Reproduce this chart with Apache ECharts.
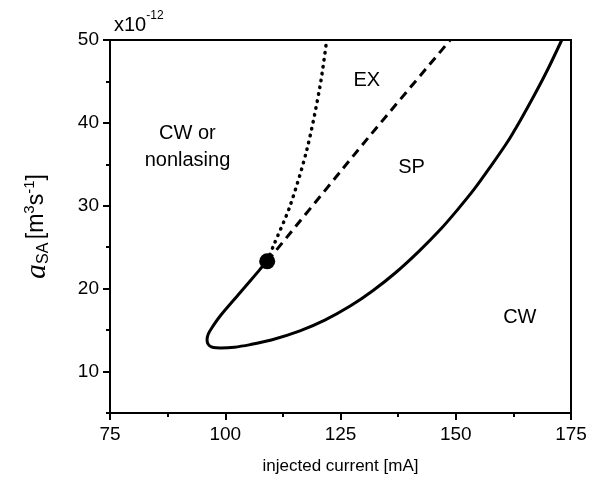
<!DOCTYPE html>
<html>
<head>
<meta charset="utf-8">
<script src="https://cdn.jsdelivr.net/npm/echarts@6/dist/echarts.min.js"></script>
<style>html,body{margin:0;padding:0;background:#fff}#c{width:602px;height:478px}</style>
</head>
<body>
<div id="c"></div>
<script>
// boundary between CW and SP (solid), starting at the codimension point
const solidX = [109.1, 107.5, 103.2, 98.9, 97.0, 96.3, 96.05, 96.3, 97.0, 98.0, 99.0, 102.0, 105.4, 110.0, 116.2, 121.6, 127.1, 132.0, 137.0, 142.0, 146.6, 150.5, 154.0, 157.5, 161.1, 164.0, 167.0, 170.0, 173.0];
const solidY = [23.3, 22.3, 19.5, 16.7, 15.2, 14.5, 13.85, 13.3, 12.98, 12.86, 12.85, 12.94, 13.25, 13.8, 14.9, 16.2, 17.9, 19.75, 21.95, 24.5, 27.1, 29.6, 32.0, 34.7, 37.6, 40.3, 43.3, 46.5, 50.0];
// EX / SP boundary (dashed)
const dashX = [109.1, 131.0, 148.8];
const dashY = [23.3, 38.2, 50.0];
// CW-or-nonlasing / EX boundary (dotted)
const dotX = [109.1, 110.4, 114.0, 117.7, 120.55, 122.0];
const dotY = [23.3, 25.1, 29.9, 36.75, 44.4, 50.0];
// special point
const pointX = [109.1];
const pointY = [23.3];
// region labels
const regionLabels = ['EX', 'SP', 'CW', 'CW or\nnonlasing'];
const regionX = [130.7, 140.4, 163.9, 91.8];
const regionY = [45.1, 34.6, 16.5, 37.1];
const xTicks = [75, 100, 125, 150, 175];
const yTicks = [10, 20, 30, 40, 50];

const zip = (a, b) => a.map((v, i) => [v, b[i]]);
const chart = echarts.init(document.getElementById('c'));
const font = 'Liberation Sans, Arial, sans-serif';
const tickStyle = { color: '#000', width: 2 };
chart.setOption({
  animation: false,
  grid: { left: 110, right: 31, top: 40, bottom: 65, outerBoundsMode: 'none', containLabel: false,
    show: true, borderColor: '#000', borderWidth: 2, backgroundColor: 'transparent' },
  xAxis: {
    type: 'value', min: xTicks[0], max: xTicks[xTicks.length - 1], interval: 25,
    axisLine: { lineStyle: { color: '#000', width: 2 } },
    axisTick: { length: 7, lineStyle: tickStyle },
    minorTick: { show: true, splitNumber: 2, length: 4, lineStyle: tickStyle },
    splitLine: { show: false },
    axisLabel: { color: '#000', fontSize: 19, fontFamily: font, margin: 12 },
    name: 'injected current [mA]', nameLocation: 'middle', nameGap: 45,
    nameTextStyle: { color: '#000', fontSize: 17, fontFamily: font }
  },
  yAxis: [{
    type: 'value', min: 5, max: 50, interval: 5,
    axisLine: { lineStyle: { color: '#000', width: 2 } },
    axisTick: { length: 7, lineStyle: tickStyle, customValues: yTicks },
    splitLine: { show: false },
    axisLabel: { color: '#000', fontSize: 19, fontFamily: font, margin: 11, customValues: yTicks },
    name: '{a|a}{sub|SA} {t|[m}{sup|3}{t|s}{sup|-1}{t|]}',
    nameLocation: 'middle', nameGap: 58, nameRotate: 90,
    nameTextStyle: {
      color: '#000',
      rich: {
        a: { fontFamily: 'Liberation Serif, serif', fontStyle: 'italic', fontSize: 30, color: '#000', verticalAlign: 'middle', lineHeight: 30 },
        sub: { fontFamily: font, fontSize: 16, color: '#000', verticalAlign: 'bottom', lineHeight: 28 },
        t: { fontFamily: font, fontSize: 23, color: '#000', verticalAlign: 'middle', lineHeight: 30 },
        sup: { fontFamily: font, fontSize: 15, color: '#000', verticalAlign: 'top', lineHeight: 28 }
      }
    }
  }, {
    type: 'value', min: 5, max: 50, interval: 5, position: 'left',
    axisLine: { show: false },
    axisTick: { show: true, length: 4, lineStyle: tickStyle },
    axisLabel: { show: false },
    splitLine: { show: false }
  }],
  graphic: [{
    type: 'text', left: 114, top: 10,
    style: { text: '{b|x10}{s|-12}', rich: {
      b: { fontFamily: font, fontSize: 20, fill: '#000', verticalAlign: 'bottom', lineHeight: 25 },
      s: { fontFamily: font, fontSize: 12, fill: '#000', verticalAlign: 'top', lineHeight: 25 } } }
  }],
  series: [
    { type: 'line', data: zip(solidX, solidY), smooth: 0.3, showSymbol: false,
      lineStyle: { color: '#000', width: 3 } },
    { type: 'line', data: zip(dashX, dashY), smooth: 0.2, showSymbol: false,
      lineStyle: { color: '#000', width: 3, type: [9, 6] } },
    { type: 'line', data: zip(dotX, dotY), smooth: 0.3, showSymbol: false,
      lineStyle: { color: '#000', width: 3.5, type: [0.5, 6.5], cap: 'round' } },
    { type: 'scatter', data: zip(pointX, pointY), symbol: 'circle', symbolSize: 16, itemStyle: { color: '#000', opacity: 1 }, z: 5 },
    { type: 'scatter', data: regionLabels.map((t, i) => ({ value: [regionX[i], regionY[i]], name: t })),
      symbolSize: 1, silent: true, itemStyle: { color: 'transparent', opacity: 1 },
      label: { show: true, position: 'inside', formatter: p => p.name, color: '#000', opacity: 1, fontSize: 20, fontFamily: font, lineHeight: 27, align: 'center' } }
  ]
});
</script>
</body>
</html>
